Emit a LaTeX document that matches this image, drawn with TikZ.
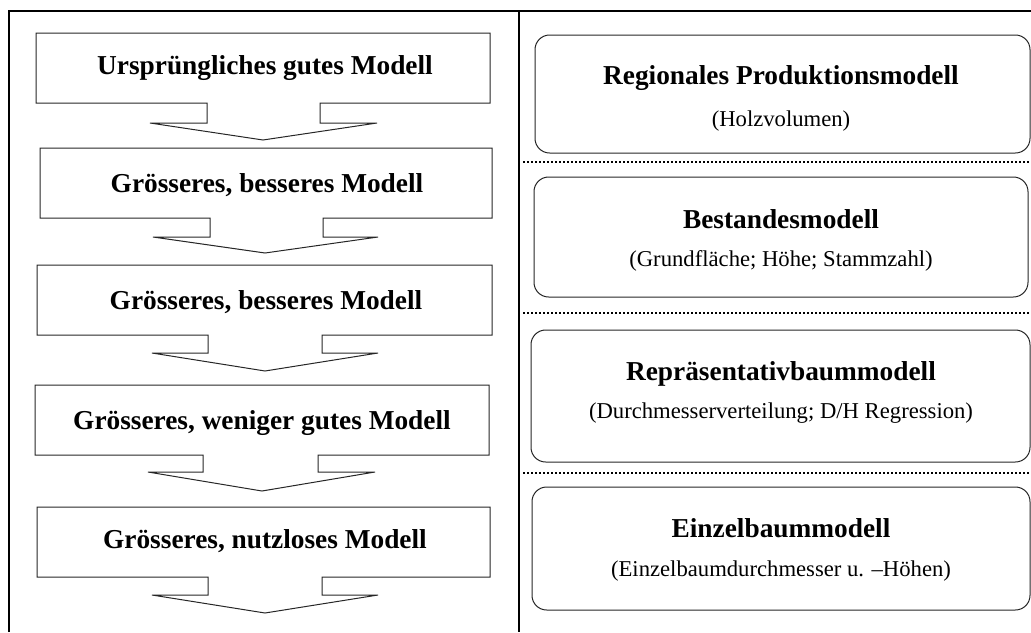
\documentclass[tikz,border=0pt]{standalone}
\usepackage{fontspec}
\setmainfont{Liberation Serif}
\begin{document}
\begin{tikzpicture}[x=0.75pt,y=-0.75pt,
  frame/.style={line width=1.5pt, draw=black},
  abox/.style={draw=black!85, line width=0.75pt, line join=miter},
  rbox/.style={draw=black!85, line width=0.75pt, rounded corners=11pt},
  sepline/.style={line width=1.6pt, dash pattern=on 1.6pt off 1.4pt, draw=black},
  ttl/.style={font=\fontsize{20.5}{24}\selectfont\bfseries, anchor=base, inner sep=0pt},
  sub/.style={font=\fontsize{17}{20}\selectfont, anchor=base, inner sep=0pt}]
\useasboundingbox (0,0) rectangle (1031,632);
% frame
\draw[frame] (9,632) -- (9,11) -- (1031,11);
\draw[frame] (519,11) -- (519,632);
% left arrow boxes
\draw[abox] (36,33) -- (490,33) -- (490,103) -- (320,103) -- (320,123) -- (377,123) -- (263,140) -- (150,123) -- (207,123) -- (207,103) -- (36,103) -- cycle;
\draw[abox] (40,148) -- (492,148) -- (492,218) -- (323,218) -- (323,237) -- (378,237) -- (265,253) -- (153,237) -- (210,237) -- (210,218) -- (40,218) -- cycle;
\draw[abox] (37,265) -- (492,265) -- (492,335) -- (322,335) -- (322,353) -- (378,353) -- (265,371) -- (152,353) -- (208,353) -- (208,335) -- (37,335) -- cycle;
\draw[abox] (35,385) -- (489,385) -- (489,455) -- (318,455) -- (318,472) -- (375,472) -- (262,491) -- (148,472) -- (203,472) -- (203,455) -- (35,455) -- cycle;
\draw[abox] (37,507) -- (490,507) -- (490,577) -- (322,577) -- (322,595) -- (378,595) -- (265,613) -- (152,595) -- (208,595) -- (208,577) -- (37,577) -- cycle;
\node[ttl] (l1) at (265,74) {Ursprüngliches gutes Modell};
\node[ttl] (l2) at (267,192) {Grösseres, besseres Modell};
\node[ttl] (l3) at (266,309) {Grösseres, besseres Modell};
\node[ttl] (l4) at (262,429) {Grösseres, weniger gutes Modell};
\node[ttl] (l5) at (265,548) {Grösseres, nutzloses Modell};
% right boxes
\draw[rbox] (535,35) rectangle (1030,153);
\draw[rbox] (534,177) rectangle (1028,297);
\draw[rbox] (531,330) rectangle (1030,462);
\draw[rbox] (532,487) rectangle (1030,610);
\draw[sepline] (523,162) -- (1031,162);
\draw[sepline] (523,313) -- (1031,313);
\draw[sepline] (523,473) -- (1031,473);
\node[ttl] (r1) at (781,84) {Regionales Produktionsmodell};
\node[sub] (r1s) at (781,126) {(Holzvolumen)};
\node[ttl] (r2) at (781,228) {Bestandesmodell};
\node[sub] (r2s) at (781,266) {(Grundfläche; Höhe; Stammzahl)};
\node[ttl] (r3) at (781,380) {Repräsentativbaummodell};
\node[sub] (r3s) at (781,418) {(Durchmesserverteilung; D/H Regression)};
\node[ttl] (r4) at (781,537) {Einzelbaummodell};
\node[sub] (r4s) at (781,576) {(Einzelbaumdurchmesser u. –Höhen)};
\end{tikzpicture}
\end{document}
